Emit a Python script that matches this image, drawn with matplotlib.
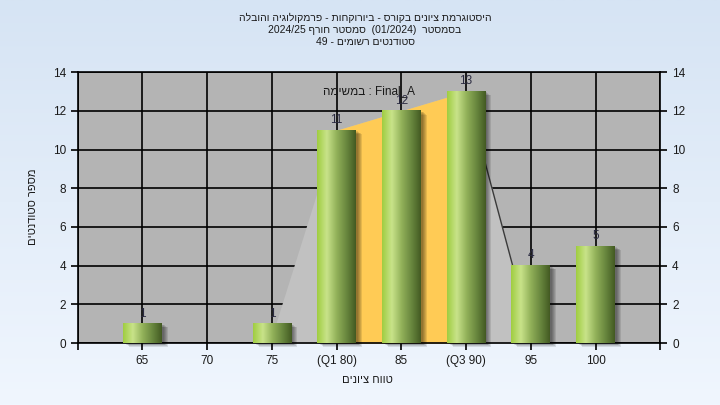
import re
import numpy as np
import matplotlib
matplotlib.use("Agg")
import matplotlib.pyplot as plt
import matplotlib.transforms as mtransforms
from matplotlib.colors import LinearSegmentedColormap
from matplotlib.patches import Rectangle

plt.rcParams['font.family'] = ['Liberation Sans', 'DejaVu Sans']

# histogram data
grades = [65, 70, 75, 80, 85, 90, 95, 100]
counts = [1, 0, 1, 11, 12, 13, 4, 5]
tick_labels = ["65", "70", "75", "(Q1 80)", "85", "(Q3 90)", "95", "100"]

# light band drawn behind the bars
band_x = [75.3, 80, 85, 90, 93.6]
band_y = [1, 11, 12, 13, 4]
# quartile band Q1..Q3
iqr_x = [80, 85, 90]
iqr_y = [11, 12, 13]

title_lines = [
    "היסטוגרמת ציונים בקורס - ביורוקחות - פרמקולוגיה והובלה",
    "בסמסטר  (01/2024)  סמסטר חורף 2024/25",
    "סטודנטים רשומים - 49",
]
task_text = "Final_A : במשימה"
x_title = "טווח ציונים"
y_title = "מספר סטודנטים"


def rtl(s):
    # matplotlib lays text out left to right, so put Hebrew in visual order
    out = s[::-1]
    out = re.sub(r"[0-9A-Za-z_/.]+", lambda m: m.group(0)[::-1], out)
    return out.translate(str.maketrans("()", ")("))


fig = plt.figure(figsize=(7.2, 4.05), dpi=100)

# light blue gradient background
bg = fig.add_axes([0, 0, 1, 1], zorder=-10)
bg_cmap = LinearSegmentedColormap.from_list("bg", ["#d6e4f4", "#f0f6fe"])
bg.imshow(np.linspace(0, 1, 256).reshape(-1, 1), cmap=bg_cmap, aspect="auto",
          extent=[0, 1, 0, 1])
bg.axis("off")

ax = fig.add_axes([0.108, 0.153, 0.809, 0.669])
ax.set_facecolor("#b4b4b4")
ax.set_xlim(60, 105)
ax.set_ylim(0, 14)

ax.set_axisbelow(True)
ax.grid(True, color="black", linewidth=1.2)

# background areas
ax.fill_between(band_x, band_y, 0, color="#c1c1c1", linewidth=0, zorder=1)
ax.fill_between(iqr_x, iqr_y, 0, color="#ffcb55", linewidth=0, zorder=1.5)
ax.plot(band_x[-2:], band_y[-2:], color="#3a3a3a", linewidth=1.0, zorder=1.6)

bar_w = 3.0
bars = ax.bar(grades, counts, width=bar_w, color="none", linewidth=0, zorder=3)

green = LinearSegmentedColormap.from_list(
    "bar", [(0.0, "#a0cd40"), (0.25, "#c8e38a"), (0.5, "#93b25a"),
            (0.8, "#62803a"), (1.0, "#435a22")])
grad = np.linspace(0, 1, 128).reshape(1, -1)

for p, c in zip(bars, counts):
    if c == 0:
        continue
    x0, w, h = p.get_x(), p.get_width(), p.get_height()
    # soft drop shadow to the right and below
    for k in range(5):
        off = mtransforms.ScaledTranslation((2 + k) / 100, -(1 + k * 0.7) / 100,
                                            fig.dpi_scale_trans)
        sh = Rectangle((x0, 0), w, h, facecolor="black", alpha=0.1,
                       linewidth=0, transform=ax.transData + off,
                       zorder=2, clip_on=False)
        ax.add_patch(sh)
    ax.imshow(grad, cmap=green, aspect="auto", extent=[x0, x0 + w, 0, h],
              zorder=3, interpolation="bilinear")
    ax.annotate(str(c), (p.get_x() + w / 2, h), xytext=(0, 3),
                textcoords="offset points", ha="center", va="bottom",
                fontsize=8.5, color="#2a2a40", zorder=4)

ax.set_xlim(60, 105)
ax.set_ylim(0, 14)

ax.set_xticks([60] + grades + [105])
ax.set_xticklabels([""] + tick_labels + [""])
ax.set_yticks(range(0, 15, 2))
ax.tick_params(axis="both", labelsize=8.5, colors="black", labelcolor="#1a1a1a",
               length=5, width=1.2)
ax.tick_params(axis="y", right=True, labelright=True)
for s in ax.spines.values():
    s.set_color("black")
    s.set_linewidth(1.2)

ax.text(0.5, 0.93, rtl(task_text), transform=ax.transAxes, ha="center",
        va="center", fontsize=8.5, color="#1a1a1a")

for i, line in enumerate(title_lines):
    fig.text(0.507, 1 - (18 + 12 * i) / 405, rtl(line), ha="center",
             va="center", fontsize=7.5, color="#1a1a1a")

fig.text(0.511, 1 - 380 / 405, rtl(x_title), ha="center", va="center",
         fontsize=8, color="#1a1a1a")
fig.text(33 / 720, 1 - 207 / 405, rtl(y_title), ha="center", va="center",
         rotation=90, fontsize=8, color="#1a1a1a")

fig.savefig("out.png", dpi=100)
